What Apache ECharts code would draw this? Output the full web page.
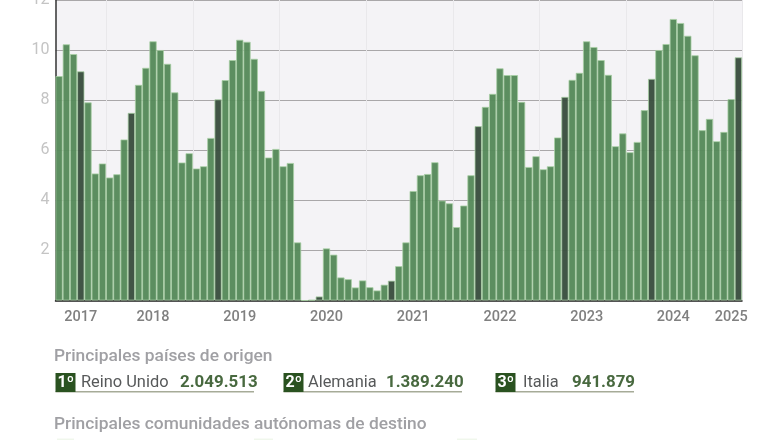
<!DOCTYPE html>
<html>
<head>
    <meta charset="utf-8"/>
    <title>Turistas</title>
    <style>
        html, body { margin: 0; padding: 0; background: #fff; }
        #chart { width: 780px; height: 440px; }
    </style>
    <script src="https://cdn.jsdelivr.net/npm/echarts@6/dist/echarts.min.js"></script>
</head>
<body>
<div id="chart"></div>
<script>
    // millones de turistas por mes
    var values = [
        8.96, 10.23, 9.84, 9.15, 7.91, 5.07, 5.47, 4.91, 5.04, 6.43,
        7.49, 8.61, 9.29, 10.35, 10.0, 9.45, 8.31, 5.51, 5.88, 5.27, 5.36, 6.49,
        8.03, 8.8, 9.6, 10.41, 10.33, 9.65, 8.37, 5.71, 6.05, 5.36, 5.49, 2.32,
        0, 0.02, 0.16, 2.08, 1.83, 0.92, 0.85, 0.52, 0.8, 0.53, 0.4, 0.63,
        0.79, 1.37, 2.32, 4.37, 5.0, 5.05, 5.52, 3.99, 3.88, 2.93, 3.79, 5.0,
        6.96, 7.73, 8.25, 9.27, 9.0, 9.0, 7.93, 5.33, 5.76, 5.24, 5.36, 6.51,
        8.13, 8.81, 9.09, 10.35, 10.12, 9.6, 9.01, 6.16, 6.67, 5.92, 6.33, 7.6,
        8.85, 10.0, 10.24, 11.24, 11.08, 10.57, 9.79, 6.8, 7.25, 6.36, 6.73, 8.04,
        9.71
    ];
    var darkBars = [3, 10, 22, 36, 46, 58, 70, 82, 94];
    var yearLabels = ['2017', '2018', '2019', '2020', '2021', '2022', '2023', '2024', '2025'];
    var yearBars = [3, 13, 25, 37, 49, 61, 73, 85, 93];
    var yTicks = [0, 2, 4, 6, 8, 10, 12];

    var categories = values.map(function (v, i) {
        var k = yearBars.indexOf(i);
        return k >= 0 ? yearLabels[k] : '';
    });

    var barData = values.map(function (v, i) {
        if (darkBars.indexOf(i) >= 0) {
            return { value: v, itemStyle: { color: '#3b5040' } };
        }
        return v;
    });

    var fontName = 'Roboto';

    function txt(x, y, text, size, weight, color) {
        return {
            type: 'text', x: x, y: y, silent: true,
            style: { text: text, font: weight + ' ' + size + 'px ' + fontName, fill: color, textVerticalAlign: 'middle' }
        };
    }
    function box(x, y, w, h, color) {
        return { type: 'rect', silent: true, shape: { x: x, y: y, width: w, height: h }, style: { fill: color } };
    }
    // fila de ranking: insignia, nombre, cifra y subrayado
    function rankRow(x, rank, name, nameX, num, numX, lineEnd) {
        return [
            box(x, 391, lineEnd - x, 1.5, '#a6ab98'),
            box(x, 373, 20, 19, '#2a5220'),
            txt(x + 2, 382.5, rank, 16, 700, '#ffffff'),
            txt(nameX, 382.5, name, 16.4, 400, '#57595a'),
            txt(numX, 382.5, num, 16.9, 700, '#48693f')
        ];
    }

    var graphics = [
        txt(54, 357, 'Principales países de origen', 17.35, 500, '#a0a0a4'),
        txt(54, 425, 'Principales comunidades autónomas de destino', 17.35, 500, '#a0a0a4'),
        // asoman las insignias de la fila siguiente, cortada por el borde
        box(57, 438.5, 17, 2, '#f0f7ec'),
        box(254, 438.5, 19, 2, '#f0f7ec'),
        box(457, 438.5, 20, 2, '#f0f7ec')
    ].concat(
        rankRow(55.5, '1º', 'Reino Unido', 81, '2.049.513', 180, 254),
        rankRow(283.5, '2º', 'Alemania', 308, '1.389.240', 386, 462),
        rankRow(495.5, '3º', 'Italia', 523, '941.879', 572, 634)
    );

    var chart = echarts.init(document.getElementById('chart'), null, { renderer: 'canvas' });
    chart.setOption({
        animation: false,
        backgroundColor: '#ffffff',
        textStyle: { fontFamily: fontName },
        grid: {
            left: 55.5, right: 38, top: 0, bottom: 139.5,
            outerBoundsMode: 'none',
            show: true, backgroundColor: '#f4f3f6', borderWidth: 0
        },
        xAxis: {
            type: 'category',
            data: categories,
            axisLine: { show: true, onZero: false, lineStyle: { color: '#1c1c1c', width: 1.5 } },
            axisTick: { show: false },
            axisLabel: { interval: 0, hideOverlap: false, color: '#808080', fontSize: 14.5, fontWeight: 500, margin: 9 },
            splitLine: {
                show: true,
                interval: function (i) { return i % 12 === 7; },
                lineStyle: { color: '#e9e8eb', width: 1 }
            }
        },
        yAxis: {
            type: 'value',
            min: yTicks[0],
            max: yTicks[yTicks.length - 1],
            interval: 2,
            axisLine: { show: true, lineStyle: { color: '#333333', width: 1.5 } },
            axisTick: { show: false },
            axisLabel: {
                color: '#c4c4c4', fontSize: 16, margin: 6,
                formatter: function (v) { return v === 0 ? '' : v; }
            },
            splitLine: { show: true, lineStyle: { color: '#a9a7a9', width: 1.2 } }
        },
        series: [{
            type: 'bar',
            data: barData,
            barWidth: '100%',
            itemStyle: { color: '#578a5b', borderColor: '#a8cfa4', borderWidth: 0.8, opacity: 0.97 }
        }],
        graphic: { elements: graphics }
    });
</script>
</body>
</html>
